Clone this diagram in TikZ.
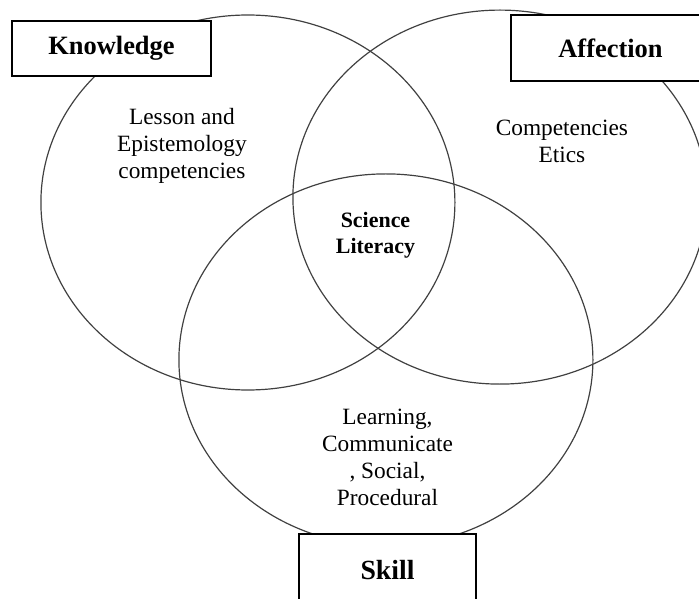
\documentclass[tikz,border=0pt]{standalone}
\usepackage{fontspec}
\setmainfont{Liberation Serif}
\usetikzlibrary{positioning}
\usetikzlibrary{shapes.geometric}

\begin{document}
\begin{tikzpicture}[
    venn/.style={ellipse, draw=black!75, line width=0.85pt, inner sep=0pt, minimum width=10.35cm, minimum height=#1},
    tagbox/.style n args={2}{rectangle, draw=black, line width=0.9pt, fill=white, inner sep=0pt, minimum width=#1, minimum height=#2, font=\fontsize{18.8}{22}\selectfont\bfseries},
    areatext/.style={align=center, inner sep=0pt, font=\fontsize{16.6}{19.2}\selectfont},
  ]

  \path[use as bounding box, clip] (0, 0) rectangle (17.475, 14.95);

  \coordinate (SL) at (9.3875, 9.0625);
  \coordinate[above left=0.825cm and 3.19cm of SL] (KNOWC);
  \coordinate[above right=0.96cm and 3.11cm of SL] (AFFC);
  \coordinate[below right=3.11cm and 0.26cm of SL] (SKILLC);
  \coordinate[above left=2.24cm and 4.84cm of SL] (KNOWT);
  \coordinate[above right=2.36cm and 4.66cm of SL] (AFFT);
  \coordinate[below right=5.55cm and 0.3cm of SL] (SKILLT);
  \coordinate[above left=4.675cm and 6.6cm of SL] (KNOWB);
  \coordinate[above right=4.6875cm and 5.875cm of SL] (AFFB);
  \coordinate[below right=8.3625cm and 0.3cm of SL] (SKILLB);

  \node [venn=9.375cm] (KNOW) at (KNOWC) {};
  \node [venn=9.35cm] (AFF) at (AFFC) {};
  \node [venn=9.3cm] (SKILL) at (SKILLC) {};

  \node [areatext, font=\fontsize{15.6}{18.5}\selectfont\bfseries] (SLTXT) at (SL) {Science\\Literacy};
  \node [areatext] (KNOWTXT) at (KNOWT) {Lesson and\\Epistemology\\competencies};
  \node [areatext] (AFFTXT) at (AFFT) {Competencies\\Etics};
  \node [areatext] (SKILLTXT) at (SKILLT) {Learning,\\Communicate\\, Social,\\Procedural};

  \node [tagbox={4.975cm}{1.375cm}] (KNOWBOX) at (KNOWB) {Knowledge};
  \node [tagbox={4.975cm}{1.65cm}] (AFFBOX) at (AFFB) {Affection};
  \node [tagbox={4.425cm}{1.8cm}, font=\fontsize{19.7}{23}\selectfont\bfseries] (SKILLBOX) at (SKILLB) {Skill};

\end{tikzpicture}
\end{document}
